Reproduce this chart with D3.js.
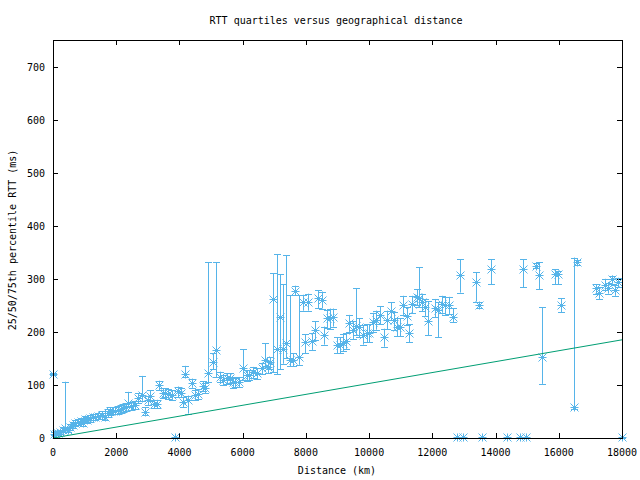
<!DOCTYPE html>
<html><head><meta charset="utf-8">
<script src="https://cdn.jsdelivr.net/npm/d3@7"></script>
<style>body{margin:0;background:#fff}svg{display:block}text{font-family:"DejaVu Sans Mono",monospace;font-size:10px;fill:#000}</style>
</head><body><svg id="c" width="640" height="480"></svg>
<script>
const title = "RTT quartiles versus geographical distance";
const xLabel = "Distance (km)";
const yLabel = "25/50/75th percentile RTT (ms)";
const xTicks = [0,2000,4000,6000,8000,10000,12000,14000,16000,18000];
const yTicks = [0,100,200,300,400,500,600,700];

const distance = [0,30,95,160,220,320,380,470,540,630,700,790,890,950,1010,1080,1170,1270,1330,1420,1550,1640,1740,1800,1900,1960,2060,2150,2210,2310,2370,2470,2590,2690,2820,2910,3000,3070,3190,3290,3350,3480,3540,3640,3760,3860,3950,4050,4110,4180,4270,4400,4490,4590,4740,4810,4900,5060,5160,5280,5380,5500,5600,5690,5760,5880,6010,6140,6200,6330,6450,6610,6710,6800,6860,6960,7090,7180,7270,7370,7500,7590,7650,7780,7910,7970,8070,8190,8290,8380,8510,8570,8670,8760,8860,8980,9080,9170,9270,9360,9490,9580,9680,9800,9930,10000,10120,10220,10340,10470,10560,10690,10790,10880,10980,11070,11200,11260,11360,11510,11580,11670,11770,11860,12080,12180,12300,12400,12530,12650,12780,12870,12970,13380,13470,13570,13850,14360,14770,14870,14960,15280,15370,15470,15880,15970,16070,16480,16570,17170,17270,17460,17550,17680,17780,17870,18000];
const median = [120,8,8,9,11,15,19,15,21,24,28,30,32,28,36,34,38,40,40,41,43,40,47,51,51,51,53,55,56,58,66,60,62,75,81,49,71,79,64,64,100,85,85,83,81,1,88,85,68,120,71,104,81,83,98,94,122,143,166,115,109,113,113,105,105,105,132,119,119,124,122,132,147,134,143,262,168,228,168,179,147,147,277,152,256,181,256,183,203,263,260,194,226,226,228,175,175,179,183,216,203,211,209,194,198,198,218,222,231,190,222,239,222,209,209,250,230,198,252,265,263,256,247,220,245,241,252,250,250,228,1,307,1,294,250,1,318,1,1,318,1,325,307,153,309,309,250,58,331,282,273,288,282,299,278,294,1];
const q25 = [118,5,5,6,8,11,12,11,16,19,22,24,26,22,30,28,31,34,33,35,36,34,40,44,45,45,46,48,49,50,58,53,55,66,70,44,62,70,56,57,90,76,77,74,72,0,78,77,58,115,46,95,72,74,88,85,105,130,115,105,100,102,103,95,96,96,110,108,109,113,111,120,135,122,130,124,120,130,140,150,135,135,269,138,240,160,240,166,185,245,244,176,208,206,210,160,160,164,168,200,186,194,190,176,180,180,200,204,214,172,205,222,204,192,192,232,212,180,235,250,246,240,230,194,228,190,236,232,234,218,0,274,0,257,245,0,290,0,0,284,0,320,280,102,290,290,237,55,326,272,262,279,272,291,268,284,0];
const q75 = [122,12,12,13,15,20,106,20,26,30,34,36,38,34,42,40,44,46,46,48,50,47,54,58,58,58,60,62,64,66,87,68,70,84,117,58,80,90,72,72,108,94,94,92,90,2,97,94,78,136,80,112,90,92,107,103,331,160,331,125,118,122,122,115,114,115,167,128,128,134,132,142,179,146,152,310,346,309,290,344,269,160,287,269,270,196,272,198,220,278,276,210,242,244,244,190,190,196,198,232,220,282,226,212,214,214,236,240,248,206,240,256,238,226,226,268,246,214,268,280,322,272,262,258,262,256,268,266,266,245,2,337,2,312,256,2,337,2,2,337,2,330,331,246,318,314,263,340,336,290,284,300,292,306,288,302,2];
const fiberLine = [[0,0],[18000,185]];

const svg = d3.select("#c");
const L=53,R=622,T=40,B=438;
const x = d3.scaleLinear().domain([0,18000]).range([L,R]);
const y = d3.scaleLinear().domain([0,750]).range([B,T]);
const blue="#56b4e9", green="#009e73";

// ticks (inward, mirrored)
const tl=5;
const g=svg.append("g").attr("stroke","#000").attr("stroke-width",1).attr("shape-rendering","crispEdges");
xTicks.forEach(t=>{const px=Math.round(x(t))+0.5;
  g.append("line").attr("x1",px).attr("x2",px).attr("y1",B).attr("y2",B-tl);
  g.append("line").attr("x1",px).attr("x2",px).attr("y1",T).attr("y2",T+tl);
  svg.append("text").attr("x",x(t)).attr("y",B+18).attr("text-anchor","middle").text(t);
});
yTicks.forEach(t=>{const py=Math.round(y(t))+0.5;
  g.append("line").attr("x1",L).attr("x2",L+tl).attr("y1",py).attr("y2",py);
  g.append("line").attr("x1",R).attr("x2",R-tl).attr("y1",py).attr("y2",py);
  svg.append("text").attr("x",L-8).attr("y",y(t)+4).attr("text-anchor","end").text(t);
});

// data
const data = distance.map((d,i)=>({d,m:median[i],lo:q25[i],hi:q75[i]}));
const cw=3.5;
const eb=svg.append("g").attr("stroke",blue).attr("stroke-width",1).attr("fill","none");
data.forEach(p=>{
  const px=Math.round(x(p.d))+0.5;
  eb.append("line").attr("x1",px).attr("x2",px).attr("y1",y(p.lo)).attr("y2",y(p.hi));
  eb.append("line").attr("x1",px-cw).attr("x2",px+cw).attr("y1",Math.round(y(p.lo))+0.5).attr("y2",Math.round(y(p.lo))+0.5);
  eb.append("line").attr("x1",px-cw).attr("x2",px+cw).attr("y1",Math.round(y(p.hi))+0.5).attr("y2",Math.round(y(p.hi))+0.5);
});
const r=4;
const star=`M${-r},0H${r}M0,${-r}V${r}M${-r},${-r}L${r},${r}M${-r},${r}L${r},${-r}`;
eb.selectAll("path.pt").data(data).join("path").attr("class","pt")
  .attr("transform",p=>`translate(${Math.round(x(p.d))+0.5},${Math.round(y(p.m))+0.5})`)
  .attr("d",star);

// fiber line
svg.append("path").datum(fiberLine).attr("fill","none").attr("stroke",green).attr("stroke-width",1)
  .attr("d",d3.line().x(p=>x(p[0])).y(p=>y(p[1])));

// border
svg.append("rect").attr("x",L+0.5).attr("y",T+0.5).attr("width",R-L).attr("height",B-T)
  .attr("fill","none").attr("stroke","#000").attr("stroke-width",1).attr("shape-rendering","crispEdges");

svg.append("text").attr("x",336).attr("y",24).attr("text-anchor","middle").text(title);
svg.append("text").attr("x",337).attr("y",474).attr("text-anchor","middle").text(xLabel);
svg.append("text").attr("transform","translate(16,240) rotate(-90)").attr("text-anchor","middle").text(yLabel);
</script></body></html>
